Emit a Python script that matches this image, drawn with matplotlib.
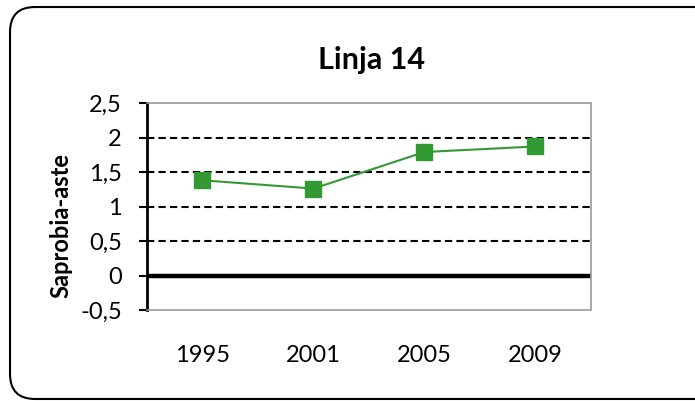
import matplotlib
matplotlib.use('Agg')
from matplotlib import pyplot as plt
from matplotlib.patches import FancyBboxPatch
from matplotlib.ticker import FuncFormatter

years = ['1995', '2001', '2005', '2009']
saprobia = [1.38, 1.26, 1.79, 1.87]
y_ticks = [-0.5, 0, 0.5, 1, 1.5, 2, 2.5]

plt.rcParams['font.family'] = ['Lato', 'DejaVu Sans']

fig = plt.figure(figsize=(6.95, 4.01), dpi=100)
ax = fig.add_axes([0.2115, 0.2269, 0.6388, 0.5162])

# rounded frame around the whole chart, running off the right edge
frame = FancyBboxPatch((0.0144, 0.005), 1.03, 0.9775, boxstyle='round,pad=0,rounding_size=0.036',
                       transform=fig.transFigure, fill=False, edgecolor='black', linewidth=1.5,
                       mutation_aspect=695 / 401, clip_on=False)
fig.patches.append(frame)

x = list(range(len(years)))
ax.set_xlim(-0.5, len(years) - 0.5)
ax.set_ylim(-0.5, 2.5)

for y in [0.5, 1, 1.5, 2]:
    ax.axhline(y, color='black', linestyle=(0, (3.5, 2)), linewidth=1.5, zorder=1)
ax.axhline(0, color='black', linewidth=3.2, zorder=2)

ax.plot(x, saprobia, color='#339933', linewidth=1.5, marker='s', markersize=12, zorder=3)

ax.set_yticks(y_ticks)
ax.yaxis.set_major_formatter(FuncFormatter(lambda v, p: ('%g' % v).replace('.', ',')))
ax.set_xticks(x)
ax.set_xticklabels(years)
ax.tick_params(axis='x', length=0, pad=25, labelsize=17)
ax.tick_params(axis='y', length=6, width=1.5, direction='out', labelsize=17, pad=12)

for side in ['top', 'right', 'bottom']:
    ax.spines[side].set_color('#999999')
    ax.spines[side].set_linestyle((0, (2, 1)))
    ax.spines[side].set_linewidth(1.2)
ax.spines['left'].set_linewidth(2)
ax.spines['left'].set_color('black')

ax.set_ylabel('Saprobia-aste', fontsize=17, fontweight='bold')
ax.yaxis.set_label_coords(-0.167, 0.41)
fig.text(0.535, 0.85, 'Linja 14', ha='center', va='center', fontsize=22, fontweight='bold')

fig.savefig('out.png', dpi=100)
